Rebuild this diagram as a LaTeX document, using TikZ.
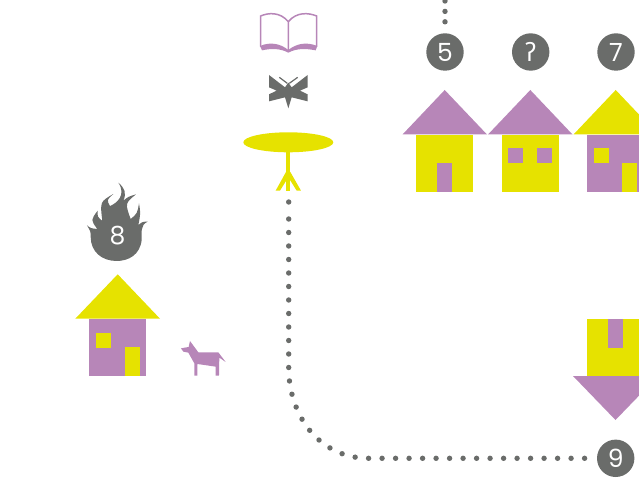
\documentclass[tikz,border=0pt]{standalone}
\usepackage{fontspec}
\newfontfamily\digitfont{Poppins}
\newfontfamily\hookfont{Noto Sans}
\usetikzlibrary{
    shapes.geometric
}
\definecolor{mauvecolor}{RGB}{183, 134, 184}
\definecolor{limecolor}{RGB}{230, 226, 0}
\definecolor{slatecolor}{RGB}{106, 108, 106}

\begin{document}
\begin{tikzpicture}[
    x=1pt,
    y=-1pt,
    % Numbered disc
    numdisc/.style={
        circle,
        fill=slatecolor,
        text=white,
        minimum size=37.4pt,
        inner sep=0pt,
        font=\fontsize{25}{25}\digitfont
    },
    % Bare number on the flame
    flamenum/.style={
        text=white,
        inner sep=0pt,
        font=\fontsize{25}{25}\digitfont
    },
    % Table top
    tabletop/.style={
        ellipse,
        fill=limecolor,
        minimum width=90pt,
        minimum height=20pt,
        inner sep=0pt
    },
    % Dotted trail
    trail/.style={
        draw=slatecolor,
        line width=5.4pt,
        line cap=round,
        dash pattern=on 0pt off #1
    },
    % Small art drawn in zoomed units
    tiny/.style={
        x=0.3333pt,
        y=-0.3333pt
    }
]
\useasboundingbox (0,0) rectangle (639,478);
\clip (0,0) rectangle (639,478);

% ============================================
% TRAILS
% ============================================

\coordinate (tablefoot) at (288.7,202);
\coordinate (trailstart) at (288.7,219);
\coordinate (topfree) at (445,1);

\node[numdisc] (five) at (445,52) {5};
\node[numdisc] (six) at (530.7,52) {\hookfont ʔ};
\node[numdisc] (seven) at (616,52) {7};
\node[numdisc] (nine) at (615.7,458.3) {9};

\draw[trail=10.4pt, shorten >=8pt] (topfree) -- (five);
\fill[slatecolor] (tablefoot) circle (2.7);
\draw[trail=13.5pt] (trailstart) -- (288.7,368)
    .. controls (288.7,414) and (318,458.3) .. (369,458.3) -- (nine);

% ============================================
% HOUSES IN THE TOP ROW
% ============================================

% House 5
\fill[mauvecolor] (402.5,134.5) -- (444.7,90) -- (487,134.5) -- cycle;
\fill[limecolor] (416,135) rectangle (473,192);
\fill[mauvecolor] (437,163) rectangle (452,192);

% House 6
\fill[mauvecolor] (488,134.5) -- (530.3,90) -- (572.5,134.5) -- cycle;
\fill[limecolor] (502,135) rectangle (559,192);
\foreach \winx in {508,537} {
    \fill[mauvecolor] (\winx,148) rectangle (\winx+15,163);
}

% House 7
\fill[limecolor] (573.5,134.5) -- (615.7,90) -- (658,134.5) -- cycle;
\fill[mauvecolor] (587,135) rectangle (644,192);
\fill[limecolor] (594,148) rectangle (609,163);
\fill[limecolor] (622,163) rectangle (637,192);

% ============================================
% BURNING HOUSE AND DOG
% ============================================

\fill[limecolor] (75.3,318.7) -- (117.7,274.3) -- (160,318.7) -- cycle;
\fill[mauvecolor] (89,319) rectangle (146,376);
\fill[limecolor] (96,333) rectangle (111,348);
\fill[limecolor] (125,347) rectangle (140,376);

% Flame
\begin{scope}[shift={(60,170)},tiny]
    \fill[slatecolor] (81,166) .. controls (92,175) .. (112,177)
        .. controls (92,150) .. (113,122)
        .. controls (112,140) .. (127,153)
        .. controls (120,95) .. (160,72)
        .. controls (140,90) .. (150,108)
        .. controls (170,100) and (200,75) .. (175,38)
        .. controls (195,55) and (200,70) .. (190,92)
        .. controls (205,80) .. (228,73)
        .. controls (195,100) .. (212,147)
        .. controls (232,130) .. (237,100)
        .. controls (242,130) .. (235,165)
        .. controls (248,155) .. (263,155)
        .. controls (240,165) and (245,190) .. (245,210)
        .. controls (240,255) and (205,273) .. (170,273)
        .. controls (125,273) and (92,245) .. (92,200)
        .. controls (92,185) .. (81,166) -- cycle;
\end{scope}
\node[flamenum] (eight) at (117.5,236) {8};

% Dog
\begin{scope}[shift={(60,170)},tiny]
    \fill[mauvecolor] (363,535) -- (386,531) -- (390,513) -- (415,547)
        -- (475,547) -- (497,576) -- (478,563) -- (477,617) -- (467,617)
        -- (467,590) -- (412,582) -- (412,617) -- (403,617) -- (403,580)
        -- (385,548) -- (370,545) -- cycle;
\end{scope}

% ============================================
% BOOK, BUTTERFLY AND TABLE
% ============================================

\begin{scope}[shift={(230,0)},tiny]
    % Book
    \draw[mauvecolor, line width=1.5pt] (175,150) -- (175,65)
        .. controls (150,35) and (115,38) .. (92,48) -- (92,140);
    \draw[mauvecolor, line width=1.5pt] (175,65)
        .. controls (200,35) and (235,38) .. (260,48) -- (260,140);
    \fill[mauvecolor] (90,138) .. controls (120,125) and (150,130) .. (175,150)
        .. controls (200,130) and (230,125) .. (262,138)
        -- (257,151) .. controls (225,145) and (200,145) .. (175,158)
        .. controls (150,145) and (125,145) .. (96,151) -- cycle;

    % Butterfly
    \fill[slatecolor] (117,225) -- (165,262) -- (175,248) -- (185,262)
        -- (233,225) -- (233,262) -- (210,272) -- (233,283) -- (233,304)
        -- (185,292) -- (175,325) -- (165,292) -- (117,304) -- (117,283)
        -- (140,272) -- (117,262) -- cycle;
    \draw[slatecolor, line width=1.2pt] (172,250) -- (148,232);
    \draw[slatecolor, line width=1.2pt] (178,250) -- (203,232);

    % Table legs
    \fill[limecolor] (168,450) rectangle (181,572);
    \fill[limecolor] (168,516) -- (137,572) -- (150,572) -- (175,532)
        -- (200,572) -- (213,572) -- (181,516) -- cycle;
\end{scope}
\node[tabletop] (table) at (288.3,142.3) {};

% ============================================
% UPSIDE DOWN HOUSE
% ============================================

\fill[limecolor] (587,319) rectangle (644,376);
\fill[mauvecolor] (608,319) rectangle (623,348);
\fill[mauvecolor] (573,376) -- (615.5,420) -- (658,376) -- cycle;

\end{tikzpicture}
\end{document}
